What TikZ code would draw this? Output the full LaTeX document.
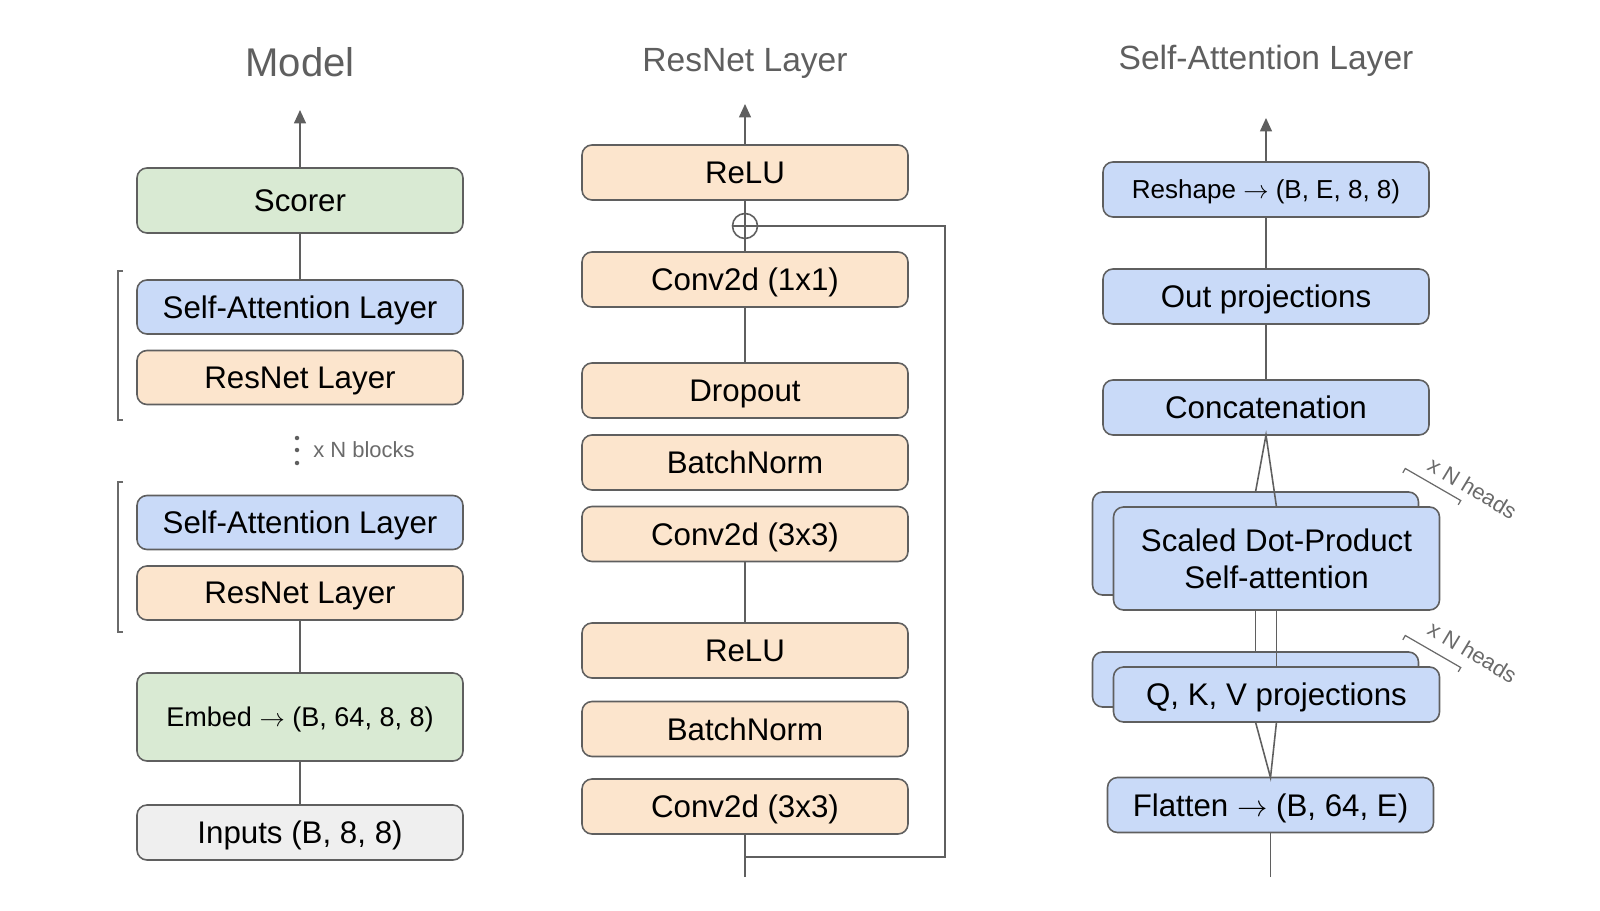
\documentclass[tikz,border=0pt]{standalone}
\usepackage{fontspec}
\setmainfont{Liberation Sans}
\usetikzlibrary{positioning,arrows.meta}
\definecolor{attnblue}{HTML}{C9DAF8}
\definecolor{resorange}{HTML}{FCE5CD}
\definecolor{modelgreen}{HTML}{D9EAD3}
\definecolor{inputgray}{HTML}{EFEFEF}
\definecolor{edgegray}{HTML}{5F5F5F}
\definecolor{notegray}{HTML}{6A6A6A}

\begin{document}
\begin{tikzpicture}[
  every node/.style={font=\fontsize{17.8}{20.9}\selectfont},
  box/.style={
    draw=edgegray,
    line width=0.9pt,
    rounded corners=0.2cm,
    align=center,
    inner sep=0pt,
    outer sep=0pt,
    text depth=0pt,
    minimum width=6.52cm,
    minimum height=1.1cm
  },
  attnbox/.style={box, fill=attnblue},
  resbox/.style={box, fill=resorange},
  greenbox/.style={box, fill=modelgreen},
  graybox/.style={box, fill=inputgray},
  title/.style={text=edgegray, font=\fontsize{19.1}{22}\selectfont},
  note/.style={text=notegray, font=\fontsize{12.5}{15}\selectfont},
  link/.style={draw=edgegray, line width=0.9pt},
  bracket/.style={draw=notegray, line width=0.7pt},
  arrow/.style={link, -{Triangle[length=0.27cm,width=0.24cm]}}
]
\useasboundingbox (0,0) rectangle (32,-18.22);

% model
\node[title, font=\fontsize{22.8}{26}\selectfont] (modeltitle) at (6.0,-1.24) {Model};
\node[greenbox, minimum height=1.3cm] (scorer) at (6.0,-4.01) {Scorer};
\node[attnbox, minimum height=1.08cm, below=0.94cm of scorer] (sa1) {Self-Attention Layer};
\node[resbox, minimum height=1.08cm, below=0.33cm of sa1] (rn1) {ResNet Layer};
\node[attnbox, minimum height=1.08cm, below=1.82cm of rn1] (sa2) {Self-Attention Layer};
\node[resbox, minimum height=1.08cm, below=0.33cm of sa2] (rn2) {ResNet Layer};
\node[greenbox, minimum height=1.76cm, below=1.06cm of rn2,
  font=\fontsize{15.4}{18}\selectfont] (embed) {Embed $\rightarrow$ (B, 64, 8, 8)};
\node[graybox, below=0.88cm of embed] (inputs) {Inputs (B, 8, 8)};
\node[note] (blocks) at (7.28,-9.0) {x N blocks};
\foreach \y in {-8.76,-9.0,-9.26}
  \fill[edgegray] (5.94,\y) circle (0.045);
\draw[bracket] (2.46,-5.42) -| (2.36,-8.4) -- (2.46,-8.4);
\draw[bracket] (2.46,-9.64) -| (2.36,-12.64) -- (2.46,-12.64);
\coordinate (modelout) at (6.0,-2.2);
\draw[arrow] (scorer) -- (modelout);
\draw[link] (sa1) -- (scorer);
\draw[link] (embed) -- (rn2);
\draw[link] (inputs) -- (embed);

% resnet layer
\node[title] (restitle) at (14.9,-1.26) {ResNet Layer};
\node[resbox] (relu2) at (14.9,-3.45) {ReLU};
\node[circle, draw=edgegray, line width=0.9pt, minimum size=0.5cm, inner sep=0pt] (plus) at (14.9,-4.52) {};
\node[resbox, below=1.04cm of relu2] (conv1) {Conv2d (1x1)};
\node[resbox, below=1.12cm of conv1] (drop) {Dropout};
\node[resbox, below=0.34cm of drop] (bn1) {BatchNorm};
\node[resbox, below=0.33cm of bn1] (conv3a) {Conv2d (3x3)};
\node[resbox, below=1.23cm of conv3a] (relu1) {ReLU};
\node[resbox, below=0.47cm of relu1] (bn2) {BatchNorm};
\node[resbox, below=0.45cm of bn2] (conv3b) {Conv2d (3x3)};
\coordinate (resout) at (14.9,-2.08);
\coordinate (resin) at (14.9,-17.54);
\coordinate (skip) at (18.9,-17.14);
\draw[link] (plus.north) -- (plus.south) (plus.west) -- (plus.east);
\draw[arrow] (relu2) -- (resout);
\draw[link] (plus) -- (relu2);
\draw[link] (conv1) -- (plus);
\draw[link] (drop) -- (conv1);
\draw[link] (relu1) -- (conv3a);
\draw[link] (resin) -- (conv3b);
\draw[link] (resin |- skip) -- (skip) |- (plus.east);

% self-attention layer
\node[title] (attntitle) at (25.32,-1.22) {Self-Attention Layer};
\node[attnbox, font=\fontsize{14.8}{17}\selectfont] (reshape) at (25.32,-3.79) {Reshape $\rightarrow$ (B, E, 8, 8)};
\node[attnbox, below=1.04cm of reshape] (outproj) {Out projections};
\node[attnbox, below=1.12cm of outproj] (concat) {Concatenation};
\node[attnbox, minimum height=2.06cm] (sdpback) at (25.11,-10.87) {};
\node[attnbox, minimum height=2.06cm] (sdp) at ([shift={(0.42,-0.3)}]sdpback) {Scaled Dot-Product\\Self-attention};
\node[attnbox] (qkvback) at (25.11,-13.59) {};
\node[attnbox] (qkv) at ([shift={(0.42,-0.3)}]qkvback) {Q, K, V projections};
\node[attnbox] (flatten) at (25.41,-16.1) {Flatten $\rightarrow$ (B, 64, E)};
\node[note, rotate=-31] (heads1) at (29.45,-9.76) {x N heads};
\node[note, rotate=-31] (heads2) at (29.45,-13.04) {x N heads};
\draw[bracket, shift={(28.66,-9.69)}, rotate=-30] (-0.64,-0.1) -- (-0.64,0) -- (0.64,0) -- (0.64,-0.1);
\draw[bracket, shift={(28.66,-13.03)}, rotate=-30] (-0.64,-0.1) -- (-0.64,0) -- (0.64,0) -- (0.64,-0.1);
\coordinate (attnout) at (25.32,-2.36);
\coordinate (attnin) at (25.41,-17.54);
\draw[arrow] (reshape) -- (attnout);
\draw[link] (outproj) -- (reshape);
\draw[link] (concat) -- (outproj);
\draw[link] (sdpback.north) -- (concat.south) -- (sdp.north);
\draw[link] (sdp.south -| qkvback.north) -- (qkvback.north);
\draw[link] (sdp.south) -- (qkv.north);
\draw[link] (qkv.south -| qkvback.south) -- (flatten.north) -- (qkv.south);
\draw[link] (attnin) -- (flatten);
\end{tikzpicture}
\end{document}
